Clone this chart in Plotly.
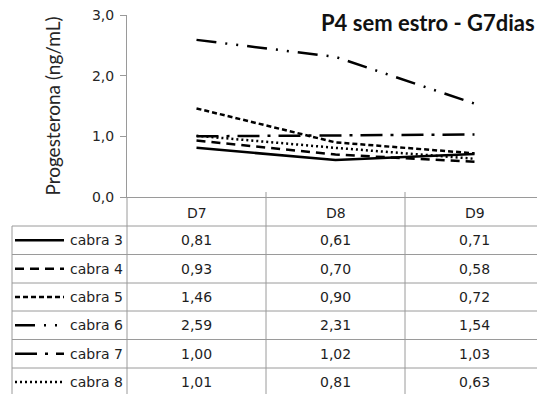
import plotly.graph_objects as go

# Progesterone (ng/mL) per goat on days D7-D9
days = ["D7", "D8", "D9"]
goats = ["cabra 3", "cabra 4", "cabra 5", "cabra 6", "cabra 7", "cabra 8"]
cabra_3 = [0.81, 0.61, 0.71]
cabra_4 = [0.93, 0.70, 0.58]
cabra_5 = [1.46, 0.90, 0.72]
cabra_6 = [2.59, 2.31, 1.54]
cabra_7 = [1.00, 1.02, 1.03]
cabra_8 = [1.01, 0.81, 0.63]
series = [cabra_3, cabra_4, cabra_5, cabra_6, cabra_7, cabra_8]

dashes = ["solid", "9px,6px", "5px,3px", "20px,9px,2px,9px,2px,9px",
          "22px,8px,3px,8px", "2px,3px"]

W, H = 537, 394
L, T, B = 127, 15, 197          # plot area: left edge, top, bottom (px)
PW, PH = W - L, B - T

def px(xp):
    return (xp - L) / PW

def py(yp):
    return (B - yp) / PH

fig = go.Figure()
xs = list(range(len(days)))
for name, vals, d in zip(goats, series, dashes):
    fig.add_trace(go.Scatter(x=xs, y=vals, mode="lines", name=name,
                             line=dict(color="black", width=2.5, dash=d),
                             showlegend=False))

grid = "#9a9a9a"
shapes = []
row_edges = [226, 254.5, 283, 311, 339.5, 368, 396]
# horizontal table lines
for i, yv in enumerate(row_edges[:-1]):
    shapes.append(dict(type="line", xref="paper", yref="paper",
                       x0=px(12), x1=1, y0=py(yv), y1=py(yv),
                       line=dict(color=grid, width=1)))
# left border of legend column
shapes.append(dict(type="line", xref="paper", yref="paper",
                   x0=px(12), x1=px(12), y0=py(226), y1=py(396),
                   line=dict(color=grid, width=1)))
# y-axis extended down through the table
shapes.append(dict(type="line", xref="paper", yref="paper",
                   x0=0, x1=0, y0=py(B), y1=py(396),
                   line=dict(color=grid, width=1)))
# column separators between days
for k in range(1, len(days)):
    shapes.append(dict(type="line", xref="x", yref="paper",
                       x0=k - 0.5, x1=k - 0.5, y0=py(192), y1=py(396),
                       line=dict(color=grid, width=1)))

annotations = []
tfont = dict(family="DejaVu Sans", size=14, color="#1e1e1e")
for k, d in enumerate(days):
    annotations.append(dict(x=k, y=py(213), xref="x", yref="paper", text=d,
                            showarrow=False, font=tfont,
                            xanchor="center", yanchor="middle"))
for i, (name, vals, d) in enumerate(zip(goats, series, dashes)):
    yc = (row_edges[i] + row_edges[i + 1]) / 2
    annotations.append(dict(x=px(125), y=py(yc), xref="paper", yref="paper",
                            text=name, showarrow=False, font=tfont,
                            xanchor="right", yanchor="middle"))
    shapes.append(dict(type="line", xref="paper", yref="paper",
                       x0=px(15), x1=px(64), y0=py(yc), y1=py(yc),
                       line=dict(color="black", width=2.5, dash=d)))
    for k, v in enumerate(vals):
        annotations.append(dict(x=k, y=py(yc), xref="x", yref="paper",
                                text=f"{v:.2f}".replace(".", ","),
                                showarrow=False, font=tfont,
                                xanchor="center", yanchor="middle"))

annotations.append(dict(x=px(537), y=py(23), xref="paper", yref="paper",
                        text="<b>P4 sem estro - G7dias</b>", showarrow=False,
                        font=dict(family="Lato", size=22, color="#111111"),
                        xanchor="right", yanchor="middle"))

fig.update_layout(
    width=W, height=H,
    margin=dict(l=L, r=0, t=T, b=H - B, pad=0),
    paper_bgcolor="white", plot_bgcolor="white",
    separators=",.",
    shapes=shapes, annotations=annotations,
    xaxis=dict(range=[-0.5, 2.5 - 7 / 139], showticklabels=False,
               showgrid=False, zeroline=False, showline=True,
               linecolor=grid, linewidth=1, ticks=""),
    yaxis=dict(range=[0, 3], dtick=1, tickformat=".1f", showgrid=False,
               zeroline=False, showline=True, linecolor=grid, linewidth=1,
               ticks="outside", ticklen=6, tickcolor=grid,
               ticklabelstandoff=3,
               tickfont=dict(family="DejaVu Sans", size=14, color="#262626"),
               title=dict(text="Progesterona (ng/mL)", standoff=26,
                          font=dict(family="Lato", size=19, color="#262626"))),
)

fig.write_html("out.html")
